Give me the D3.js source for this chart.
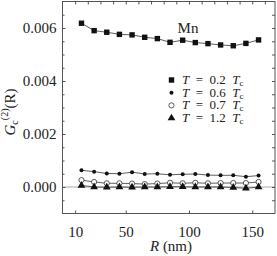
<!DOCTYPE html>
<html>
<head>
  <meta charset="utf-8">
  <script src="https://d3js.org/d3.v7.min.js"></script>
  <style>
    body { margin: 0; background: #fff; }
    text { font-family: "Liberation Serif", "DejaVu Serif", serif; fill: #222; }
  </style>
</head>
<body>
  <div id="chart"></div>
  <script>
    // R values (nm)
    const radii = [15, 25, 35, 45, 55, 65, 75, 85, 95, 105, 115, 125, 135, 145, 155];

    // G_c^(2)(R) for each temperature
    const t02 = [0.00618, 0.00590, 0.00584, 0.00576, 0.00574, 0.00565, 0.00560, 0.00546, 0.00554, 0.00545, 0.00541, 0.00536, 0.00533, 0.00542, 0.00555];
    const t06 = [0.00063, 0.00058, 0.00051, 0.00050, 0.00056, 0.00049, 0.00050, 0.00046, 0.00048, 0.00049, 0.00045, 0.00044, 0.00044, 0.00039, 0.00043];
    const t07 = [0.00026, 0.00019, 0.00014, 0.00014, 0.00013, 0.00011, 0.00013, 0.00016, 0.00014, 0.00016, 0.00014, 0.00015, 0.00015, 0.00015, 0.00019];
    const t12 = [0.00006, 0.00000, -0.00001, 0.00000, -0.00001, 0.00000, 0.00000, 0.00001, 0.00001, 0.00000, 0.00000, 0.00000, -0.00002, -0.00005, 0.00000];

    const xTicks = [10, 50, 100, 150];
    const yTicks = [0, 0.002, 0.004, 0.006];
    const legendLabels = ["0.2", "0.6", "0.7", "1.2"];

    const width = 277, height = 256;
    const svg = d3.select("#chart").append("svg")
      .attr("width", width)
      .attr("height", height);

    const x = d3.scaleLinear().domain([0, 168]).range([62.5, 275]);
    const y = d3.scaleLinear().domain([-0.001, 0.007]).range([213.5, 1.5]);

    // zero line
    svg.append("line")
      .attr("x1", x(0)).attr("x2", x(168))
      .attr("y1", y(0)).attr("y2", y(0))
      .attr("stroke", "#aaa").attr("stroke-width", 1);

    // frame
    svg.append("rect")
      .attr("x", x(0)).attr("y", y(0.007))
      .attr("width", x(168) - x(0)).attr("height", y(-0.001) - y(0.007))
      .attr("fill", "none").attr("stroke", "#555").attr("stroke-width", 1);

    // bottom axis
    svg.append("g")
      .attr("transform", `translate(0,${y(-0.001)})`)
      .call(d3.axisBottom(x).tickValues(xTicks).tickSizeInner(-3).tickSizeOuter(0).tickPadding(13))
      .call(g => g.select(".domain").remove())
      .call(g => g.selectAll("line").attr("stroke", "#555"))
      .call(g => g.selectAll("text").style("font-size", "15px").attr("fill", "#222"));

    // top ticks
    svg.append("g")
      .attr("transform", `translate(0,${y(0.007)})`)
      .call(d3.axisTop(x).tickValues(d3.range(10, 161, 10)).tickSizeInner(-3).tickSizeOuter(0).tickFormat(""))
      .call(g => g.select(".domain").remove())
      .call(g => g.selectAll("line").attr("stroke", "#555"));

    // left axis
    svg.append("g")
      .attr("transform", `translate(${x(0)},0)`)
      .call(d3.axisLeft(y).tickValues(yTicks).tickSizeInner(-3).tickSizeOuter(0).tickPadding(6).tickFormat(d3.format(".3f")))
      .call(g => g.select(".domain").remove())
      .call(g => g.selectAll("line").attr("stroke", "#555"))
      .call(g => g.selectAll("text").style("font-size", "15px").attr("fill", "#222"));

    const minorY = d3.range(-0.0005, 0.0066, 0.0005);
    svg.append("g")
      .attr("transform", `translate(${x(0)},0)`)
      .call(d3.axisLeft(y).tickValues(minorY).tickSizeInner(-2).tickSizeOuter(0).tickFormat(""))
      .call(g => g.select(".domain").remove())
      .call(g => g.selectAll("line").attr("stroke", "#555"));

    svg.append("g")
      .attr("transform", `translate(${x(168)},0)`)
      .call(d3.axisRight(y).tickValues(minorY).tickSizeInner(-3).tickSizeOuter(0).tickFormat(""))
      .call(g => g.select(".domain").remove())
      .call(g => g.selectAll("line").attr("stroke", "#555"));

    // series
    const series = [
      { vals: t02, marker: "square" },
      { vals: t06, marker: "dot" },
      { vals: t07, marker: "open" },
      { vals: t12, marker: "triangle" }
    ];

    const line = d3.line().x(d => x(d[0])).y(d => y(d[1]));

    function drawMarker(g, type, cx, cy) {
      if (type === "square") {
        g.append("rect").attr("x", cx - 2.7).attr("y", cy - 2.7).attr("width", 5.4).attr("height", 5.4).attr("fill", "#111");
      } else if (type === "dot") {
        g.append("circle").attr("cx", cx).attr("cy", cy).attr("r", 2).attr("fill", "#111");
      } else if (type === "open") {
        g.append("circle").attr("cx", cx).attr("cy", cy).attr("r", 2.6).attr("fill", "#fff").attr("stroke", "#333").attr("stroke-width", 0.8);
      } else {
        g.append("path").attr("d", d3.symbol(d3.symbolTriangle, 26)()).attr("transform", `translate(${cx},${cy})`).attr("fill", "#111");
      }
    }

    series.forEach(s => {
      const pts = radii.map((r, i) => [r, s.vals[i]]);
      svg.append("path")
        .attr("d", line(pts))
        .attr("fill", "none")
        .attr("stroke", "#333")
        .attr("stroke-width", 0.8);
      const g = svg.append("g");
      pts.forEach(p => drawMarker(g, s.marker, x(p[0]), y(p[1])));
    });

    // Mn label
    svg.append("text")
      .attr("x", 188).attr("y", 33)
      .attr("text-anchor", "middle")
      .style("font-size", "15px")
      .text("Mn");

    // legend
    series.forEach((s, i) => {
      const ly = 80 + i * 12.7;
      drawMarker(svg.append("g"), s.marker, 171.5, ly);
      const t = svg.append("text")
        .attr("x", 182).attr("y", ly + 4)
        .style("font-size", "13px")
        .style("white-space", "pre");
      t.append("tspan").style("font-style", "italic").text("T");
      t.append("tspan").text("  =  " + legendLabels[i] + "  ");
      t.append("tspan").style("font-style", "italic").text("T");
      t.append("tspan").attr("dy", 2).style("font-size", "9px").text("c");
    });

    // y label
    const yl = svg.append("text")
      .attr("transform", "translate(15,112) rotate(-90)")
      .attr("text-anchor", "middle")
      .style("font-size", "15px");
    yl.append("tspan").style("font-style", "italic").text("G");
    yl.append("tspan").attr("dy", 3).style("font-size", "10px").text("c");
    yl.append("tspan").attr("dy", -10).style("font-size", "10px").text("(2)");
    yl.append("tspan").attr("dy", 7).text("(R)");

    // x label
    const xl = svg.append("text")
      .attr("x", 171).attr("y", 251)
      .attr("text-anchor", "middle")
      .style("font-size", "15px");
    xl.append("tspan").style("font-style", "italic").text("R");
    xl.append("tspan").text(" (nm)");
  </script>
</body>
</html>
